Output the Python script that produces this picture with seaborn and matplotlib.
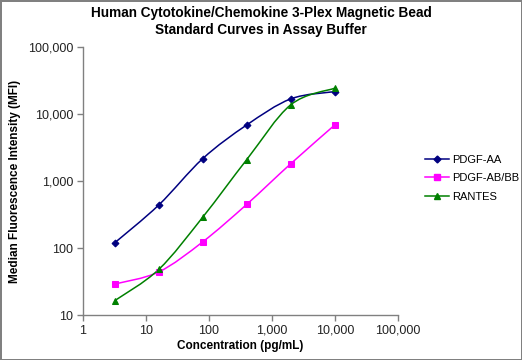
"""
    3-plex standard curves (log-log, smoothed lines like excel)
"""
import matplotlib
matplotlib.use('Agg')
import matplotlib.pyplot as plt
import matplotlib.ticker as mticker
import numpy as np
import pandas as pd
import seaborn as sns
from matplotlib.path import Path
from matplotlib.patches import PathPatch
from matplotlib.lines import Line2D

concentration = [3.2, 16, 80, 400, 2000, 10000]  # pg/mL
pdgf_aa = [120, 440, 2170, 6900, 16900, 21700]
pdgf_abbb = [29, 44, 124, 450, 1820, 6900]
rantes = [16.4, 48, 290, 2100, 13800, 24400]

analytes = ['PDGF-AA', 'PDGF-AB/BB', 'RANTES']
colors = {'PDGF-AA': '#000080', 'PDGF-AB/BB': '#FF00FF', 'RANTES': '#008000'}
markers = {'PDGF-AA': 'D', 'PDGF-AB/BB': 's', 'RANTES': '^'}
msizes = {'PDGF-AA': 3.5, 'PDGF-AB/BB': 4, 'RANTES': 5}

df = pd.DataFrame({
    'conc': concentration * 3,
    'mfi': pdgf_aa + pdgf_abbb + rantes,
    'analyte': np.repeat(analytes, len(concentration)),
})

plt.rcParams['font.family'] = ['Liberation Sans', 'DejaVu Sans']

fig = plt.figure(figsize=(5.22, 3.6), dpi=100, linewidth=2, edgecolor='#808080')
ax = fig.add_axes([0.159, 0.125, 0.603, 0.744])


def smooth_path(x, y):
    # excel style smoothed line -> cubic bezier through the points (in log space)
    lx, ly = np.log10(x), np.log10(y)
    pts = np.column_stack([lx, ly])
    n = len(pts)
    verts = [pts[0]]
    codes = [Path.MOVETO]
    for i in range(n - 1):
        p0 = pts[max(i - 1, 0)]
        p1 = pts[i]
        p2 = pts[i + 1]
        p3 = pts[min(i + 2, n - 1)]
        c1 = p1 + (p2 - p0) / 6.0
        c2 = p2 - (p3 - p1) / 6.0
        verts += [c1, c2, p2]
        codes += [Path.CURVE4] * 3
    verts = 10 ** np.array(verts)
    return Path(verts, codes)


for name in analytes:
    sub = df[df['analyte'] == name]
    patch = PathPatch(smooth_path(sub['conc'].values, sub['mfi'].values),
                      facecolor='none', edgecolor=colors[name], lw=1.1,
                      transform=ax.transData, zorder=2)
    ax.add_patch(patch)
    sns.lineplot(data=sub, x='conc', y='mfi', ax=ax, color=colors[name], marker=markers[name],
                 markersize=msizes[name], markeredgecolor=colors[name], linewidth=0, zorder=3,
                 legend=False)

ax.set_xscale('log')
ax.set_yscale('log')
ax.set_xlim(1, 100000)
ax.set_ylim(10, 100000)

fmt = mticker.FuncFormatter(lambda v, p: '{:,.0f}'.format(v))
ax.xaxis.set_major_locator(mticker.LogLocator(base=10, numticks=10))
ax.yaxis.set_major_locator(mticker.LogLocator(base=10, numticks=10))
ax.xaxis.set_minor_locator(mticker.NullLocator())
ax.yaxis.set_minor_locator(mticker.NullLocator())
ax.xaxis.set_major_formatter(fmt)
ax.yaxis.set_major_formatter(fmt)
ax.tick_params(axis='both', labelsize=9, length=4, width=1, color='#808080', direction='out', pad=3,
               labelcolor='#222222')

for s in ['top', 'right']:
    ax.spines[s].set_visible(False)
for s in ['left', 'bottom']:
    ax.spines[s].set_color('#808080')
    ax.spines[s].set_linewidth(1)

ax.set_xlabel('Concentration (pg/mL)', fontsize=8.5, fontweight='bold', labelpad=2)
ax.set_ylabel('Median Fluorescence Intensity (MFI)', fontsize=8.5, fontweight='bold', labelpad=5)
fig.text(0.5, 0.94, 'Human Cytotokine/Chemokine 3-Plex Magnetic Bead\nStandard Curves in Assay Buffer',
         ha='center', va='center', fontsize=9.8, fontweight='bold', linespacing=1.3)

handles = [Line2D([0], [0], color=colors[n], marker=markers[n], markersize=msizes[n], lw=1.1)
           for n in analytes]
fig.legend(handles, analytes, loc='center left', bbox_to_anchor=(0.795, 0.505), frameon=False,
           fontsize=8, handlelength=2.2, handletextpad=0.2, labelspacing=0.75)

fig.savefig('out.png', dpi=100)
